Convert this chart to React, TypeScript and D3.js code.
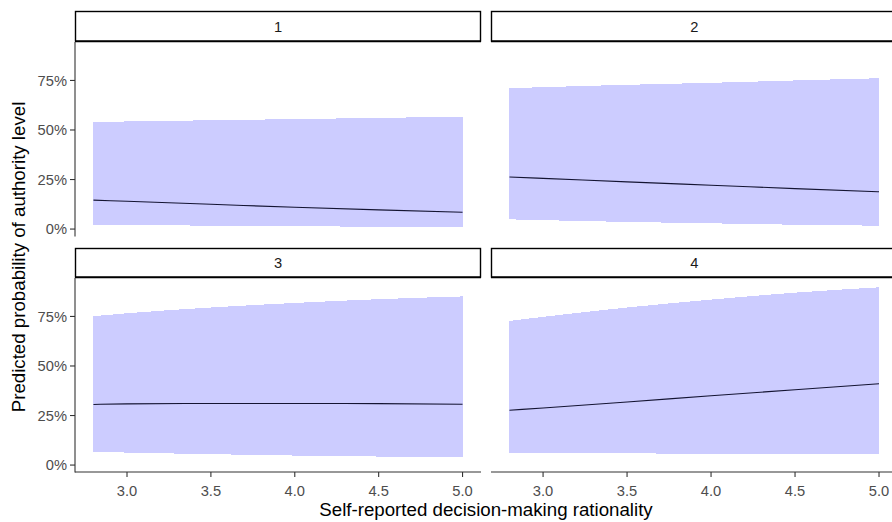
import React from "react";
import * as d3 from "d3";

const xs = [2.8, 3.0, 3.5, 4.0, 4.5, 5.0];
const panels = ["1", "2", "3", "4"];
const fit1 = [0.146, 0.140, 0.125, 0.110, 0.097, 0.085];
const upper1 = [0.540, 0.543, 0.549, 0.555, 0.561, 0.567];
const lower1 = [0.023, 0.021, 0.017, 0.014, 0.012, 0.010];
const fit2 = [0.263, 0.256, 0.238, 0.221, 0.204, 0.188];
const upper2 = [0.711, 0.716, 0.728, 0.738, 0.750, 0.761];
const lower2 = [0.049, 0.045, 0.036, 0.029, 0.022, 0.017];
const fit3 = [0.306, 0.309, 0.311, 0.311, 0.310, 0.307];
const upper3 = [0.751, 0.766, 0.795, 0.818, 0.837, 0.851];
const lower3 = [0.067, 0.063, 0.055, 0.048, 0.043, 0.040];
const fit4 = [0.277, 0.288, 0.318, 0.350, 0.380, 0.410];
const upper4 = [0.727, 0.748, 0.795, 0.835, 0.870, 0.897];
const lower4 = [0.062, 0.061, 0.059, 0.057, 0.055, 0.054];
const xTicks = [3.0, 3.5, 4.0, 4.5, 5.0];
const yTicks = [0, 0.25, 0.5, 0.75];

const fits = [fit1, fit2, fit3, fit4];
const uppers = [upper1, upper2, upper3, upper4];
const lowers = [lower1, lower2, lower3, lower4];

const FONT = "'Liberation Sans', Arial, sans-serif";

export default function App() {
  const W = 892, H = 522;
  const cols = [[75, 481], [491, 897.5]];
  const rows = [
    { strip: [11, 41.5], panel: [42, 236] },
    { strip: [248, 277.5], panel: [278, 472] },
  ];
  const xDomain = [2.69, 5.11];
  const yDomain = [-0.035, 0.944];
  const pct = d3.format(".0%");

  return (
    <svg width={W} height={H} style={{ position: "absolute", left: 0, top: 0, background: "#fff" }} fontFamily={FONT}>
      <rect width={W} height={H} fill="#fff" />
      {panels.map((p, i) => {
        const c = cols[i % 2];
        const r = rows[Math.floor(i / 2)];
        const x = d3.scaleLinear().domain(xDomain).range(c);
        const y = d3.scaleLinear().domain(yDomain).range([r.panel[1], r.panel[0]]);
        const area = d3.area<number>()
          .x((_, k) => x(xs[k]))
          .y0((_, k) => y(lowers[i][k]))
          .y1((_, k) => y(uppers[i][k]))
          .curve(d3.curveMonotoneX);
        const line = d3.line<number>()
          .x((_, k) => x(xs[k]))
          .y((d) => y(d))
          .curve(d3.curveMonotoneX);
        const isLeft = i % 2 === 0;
        const isBottom = i >= 2;
        return (
          <g key={p}>
            <path d={area(xs) || ""} fill="#CCCCFF" stroke="none" shapeRendering="crispEdges" />
            <path d={line(fits[i]) || ""} fill="none" stroke="#141432" strokeWidth={1.1} />
            <rect x={c[0] + 0.5} y={r.strip[0] + 0.5} width={c[1] - c[0] - 1} height={r.strip[1] - r.strip[0] - 1}
              fill="#fff" stroke="#000" strokeWidth={1.4} />
            <line x1={c[0]} x2={c[1]} y1={r.strip[1]} y2={r.strip[1]} stroke="#000" strokeWidth={1.6} />
            <text x={(c[0] + c[1]) / 2} y={(r.strip[0] + r.strip[1]) / 2 + 5.5} textAnchor="middle"
              fontSize={14.7} fill="#1A1A1A">{p}</text>
            {isLeft && (
              <g>
                <line x1={c[0]} x2={c[0]} y1={r.panel[0]} y2={r.panel[1] + 0.5} stroke="#333" strokeWidth={1.1} />
                {yTicks.map((t) => (
                  <g key={t}>
                    <line x1={c[0] - 5} x2={c[0]} y1={y(t)} y2={y(t)} stroke="#333" strokeWidth={1.1} />
                    <text x={c[0] - 8} y={y(t) + 5.2} textAnchor="end" fontSize={14.7} fill="#4D4D4D">{pct(t)}</text>
                  </g>
                ))}
              </g>
            )}
            {isBottom && (
              <g>
                <line x1={c[0]} x2={c[1]} y1={r.panel[1]} y2={r.panel[1]} stroke="#333" strokeWidth={1.1} />
                {xTicks.map((t) => (
                  <g key={t}>
                    <line x1={x(t)} x2={x(t)} y1={r.panel[1]} y2={r.panel[1] + 5} stroke="#333" strokeWidth={1.1} />
                    <text x={x(t)} y={r.panel[1] + 24} textAnchor="middle" fontSize={14.7} fill="#4D4D4D">{t.toFixed(1)}</text>
                  </g>
                ))}
              </g>
            )}
          </g>
        );
      })}
      <text x={486} y={516} textAnchor="middle" fontSize={18.7} fill="#000">Self-reported decision-making rationality</text>
      <text transform={`translate(25,${(42 + 472) / 2}) rotate(-90)`} textAnchor="middle" fontSize={18.7} fill="#000">
        Predicted probability of authority level
      </text>
    </svg>
  );
}
